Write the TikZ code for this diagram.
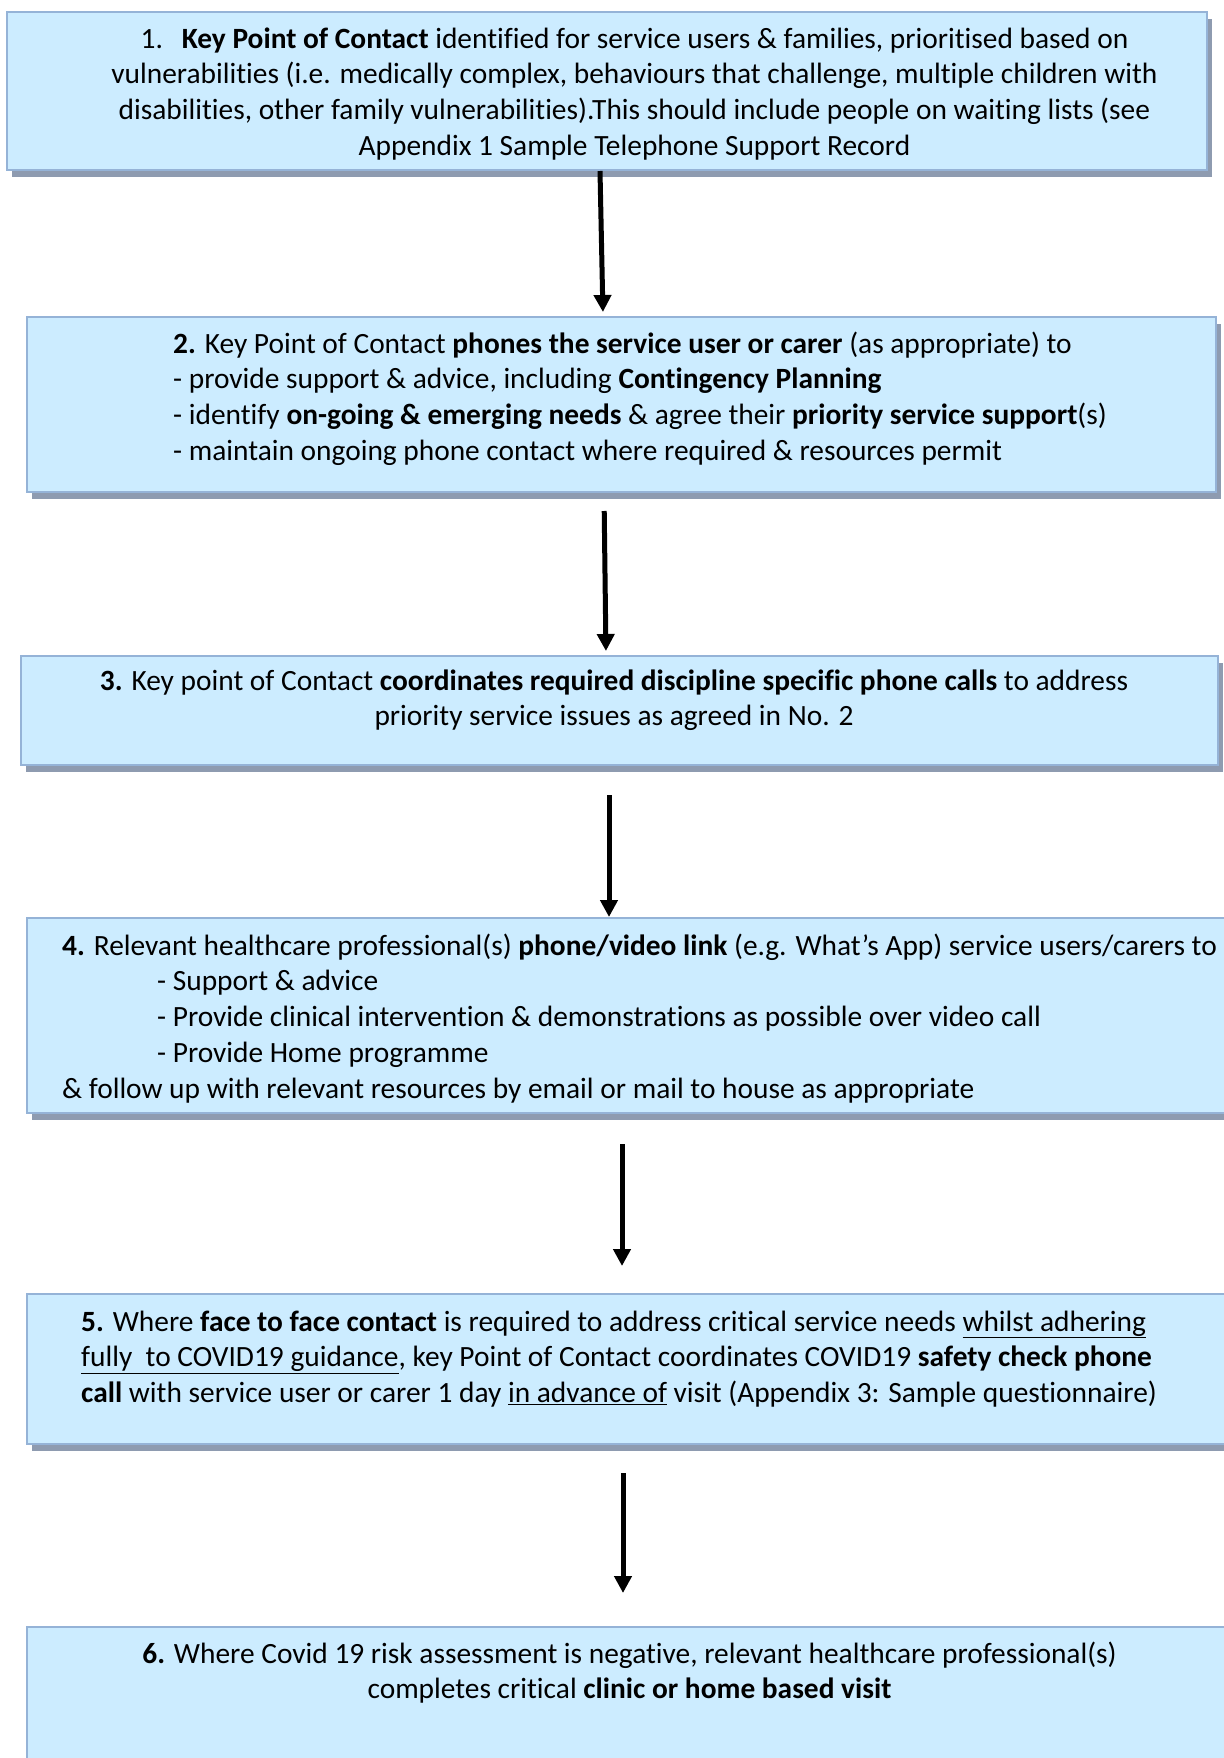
\documentclass[tikz,border=0pt]{standalone}
\usepackage{fontspec}
\setmainfont[Ligatures={NoCommon}]{Carlito}
\usetikzlibrary{arrows.meta,shadows}
\definecolor{cFill}{HTML}{CCECFF}
\definecolor{cEdge}{HTML}{95B3D7}
\definecolor{cShade}{HTML}{8E9BB0}
\tikzset{
  stepbox/.style={draw=cEdge, line width=2pt, fill=cFill, inner sep=0pt,
    drop shadow={shadow xshift=5pt, shadow yshift=-7pt, fill=cShade, opacity=1}},
  steptext/.style={inner sep=0pt, anchor=north, font=\fontsize{29.4}{35.7}\selectfont},
  lefttext/.style={steptext, anchor=north west, align=left},
  flow/.style={-{Triangle[length=17pt, width=17pt]}, line width=5pt},
}
\begin{document}
\begin{tikzpicture}[x=1pt, y=-1pt]
    \useasboundingbox (0,0) rectangle (1223,1758);
    % --- boxes, explicit coordinates ---
    \node[stepbox, minimum width=1200pt, minimum height=158pt] (b1) at (607,91) {};
    \node[stepbox, minimum width=1189pt, minimum height=175pt] (b2) at (621.5,404.5) {};
    \node[stepbox, minimum width=1197pt, minimum height=109pt] (b3) at (619.5,710.5) {};
    \node[stepbox, minimum width=1213pt, minimum height=195pt] (b4) at (633.5,1015.5) {};
    \node[stepbox, minimum width=1213pt, minimum height=150pt] (b5) at (633.5,1369) {};
    \node[stepbox, minimum width=1213pt, minimum height=163pt] (b6) at (633.5,1708.5) {};
    % --- texts ---
    \node[steptext, align=center] (t1) at (634.5,23) {\strut 1.\hspace{19pt}\textbf{Key Point of Contact} identified for service users \& families, prioritised based on\\
      vulnerabilities (i.e. medically complex, behaviours that challenge, multiple children with\\
      disabilities, other family vulnerabilities).This should include people on waiting lists (see\\
      Appendix 1 Sample Telephone Support Record};
    \node[lefttext] (t2) at (173,328) {\strut\textbf{2.} Key Point of Contact \textbf{phones the service user or carer} (as appropriate) to\\
      - provide support \& advice, including \textbf{Contingency Planning}\\
      - identify \textbf{on-going \& emerging needs} \& agree their \textbf{priority service support}(s)\\
      - maintain ongoing phone contact where required \& resources permit};
    \node[steptext, align=center] (t3) at (614,665) {\strut\textbf{3.} Key point of Contact \textbf{coordinates required discipline specific phone calls} to address\\
      priority service issues as agreed in No. 2};
    \node[lefttext] (t4) at (62,930) {\strut\textbf{4.} Relevant healthcare professional(s) \textbf{phone/video link} (e.g. What’s App) service users/carers to\\
      \hspace*{95pt}- Support \& advice\\
      \hspace*{95pt}- Provide clinical intervention \& demonstrations as possible over video call\\
      \hspace*{95pt}- Provide Home programme\\
      \& follow up with relevant resources by email or mail to house as appropriate};
    \node[lefttext] (t5) at (81,1306) {\strut\textbf{5.} Where \textbf{face to face contact} is required to address critical service needs \underline{whilst adhering}\\
      \underline{fully\ \ to COVID19 guidance}, key Point of Contact coordinates COVID19 \textbf{safety check phone}\\
      \textbf{call} with service user or carer 1 day \underline{in advance of} visit (Appendix 3: Sample questionnaire)};
    \node[steptext, align=center] (t6) at (629.5,1638) {\strut\textbf{6.} Where Covid 19 risk assessment is negative, relevant healthcare professional(s)\\
      completes critical \textbf{clinic or home based visit}};
    % --- arrows between boxes ---
    \draw[flow, shorten >=4pt] ([xshift=-7pt]b1.south) -- ([xshift=-18.5pt]b2.north);
    \draw[flow, shorten <=18pt, shorten >=4pt] ([xshift=-17.5pt]b2.south) -- ([xshift=-13.5pt]b3.north);
    \draw[flow, shorten <=29pt] ([xshift=-10.5pt]b3.south) -- ([xshift=-24.5pt]b4.north);
    \draw[flow, shorten <=30pt, shorten >=27pt] ([xshift=-11.5pt]b4.south) -- ([xshift=-11.5pt]b5.north);
    \draw[flow, shorten <=28pt, shorten >=33pt] ([xshift=-10.5pt]b5.south) -- ([xshift=-10.5pt]b6.north);
\end{tikzpicture}
\end{document}
